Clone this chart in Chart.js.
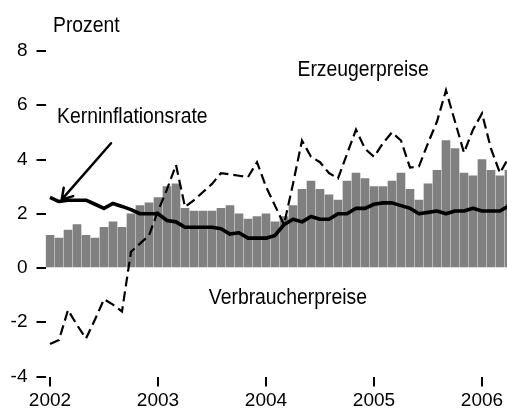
<!DOCTYPE html>
<html lang="de">
<head>
<meta charset="UTF-8">
<title>Verbraucherpreise, Erzeugerpreise, Kerninflationsrate</title>
<script src="https://cdn.jsdelivr.net/npm/chart.js"></script>
<style>
    body { margin: 0; background: #fff; }
    #wrap { width: 507px; height: 412px; }
</style>
</head>
<body>
<div id="wrap"><canvas id="chart" width="507" height="412"></canvas></div>
<script>
// Monate Jan 2002 - Apr 2006
const months = [
    '2002-01','2002-02','2002-03','2002-04','2002-05','2002-06','2002-07','2002-08','2002-09','2002-10','2002-11','2002-12',
    '2003-01','2003-02','2003-03','2003-04','2003-05','2003-06','2003-07','2003-08','2003-09','2003-10','2003-11','2003-12',
    '2004-01','2004-02','2004-03','2004-04','2004-05','2004-06','2004-07','2004-08','2004-09','2004-10','2004-11','2004-12',
    '2005-01','2005-02','2005-03','2005-04','2005-05','2005-06','2005-07','2005-08','2005-09','2005-10','2005-11','2005-12',
    '2006-01','2006-02','2006-03','2006-04'
];
const years = ['2002', '2003', '2004', '2005', '2006'];

// Verbraucherpreise (Balken)
const verbraucherpreise = [
    1.2, 1.1, 1.4, 1.6, 1.2, 1.1, 1.5, 1.7, 1.5, 2.0, 2.3, 2.4,
    2.6, 3.0, 3.1, 2.2, 2.1, 2.1, 2.1, 2.2, 2.3, 2.0, 1.8, 1.9,
    2.0, 1.7, 1.9, 2.3, 2.9, 3.2, 2.9, 2.7, 2.5, 3.2, 3.5, 3.3,
    3.0, 3.0, 3.2, 3.5, 2.9, 2.5, 3.1, 3.6, 4.7, 4.4, 3.5, 3.4,
    4.0, 3.6, 3.4, 3.6
];
// Erzeugerpreise (gestrichelt)
const erzeugerpreise = [
    -2.8, -2.65, -1.55, -2.1, -2.6, -1.9, -1.15, -1.35, -1.6, 0.6, 0.9, 1.2,
    2.1, 2.9, 3.8, 2.25, 2.5, 2.8, 3.1, 3.5, 3.45, 3.4, 3.35, 3.9,
    3.0, 2.3, 1.6, 3.1, 4.7, 4.1, 3.9, 3.5, 3.3, 4.2, 5.1, 4.4,
    4.1, 4.6, 5.0, 4.7, 3.7, 3.75, 4.6, 5.4, 6.55, 5.4, 4.25, 5.1,
    5.7, 4.4, 3.5, 4.1
];
// Kerninflationsrate (dicke Linie)
const kerninflation = [
    2.6, 2.45, 2.5, 2.5, 2.5, 2.35, 2.2, 2.38, 2.27, 2.15, 2.0, 2.0,
    2.0, 1.75, 1.7, 1.5, 1.5, 1.5, 1.5, 1.45, 1.25, 1.3, 1.1, 1.1,
    1.1, 1.2, 1.6, 1.8, 1.7, 1.9, 1.8, 1.8, 2.0, 2.0, 2.2, 2.2,
    2.35, 2.4, 2.4, 2.3, 2.2, 2.0, 2.05, 2.1, 2.0, 2.1, 2.1, 2.2,
    2.1, 2.1, 2.1, 2.3
];

const family = '"Liberation Sans", Arial, sans-serif';

// text labels and arrow, in data units (month index, percent)
const notes = [
    { text: 'Prozent', x: 0.33, y: 8.69 },
    { text: 'Erzeugerpreise', x: 27.5, y: 7.07 },
    { text: 'Kerninflationsrate', x: 0.78, y: 5.36 },
    { text: 'Verbraucherpreise', x: 17.65, y: -1.31 }
];
const arrowFrom = { x: 6.78, y: 4.6 };
const arrowTo = { x: 1.3, y: 2.52 };

const toXY = arr => arr.map((v, i) => ({ x: i, y: v }));

const notesPlugin = {
    id: 'notes',
    afterDraw(chart) {
        const { ctx, scales: { x, y } } = chart;
        ctx.save();
        ctx.fillStyle = '#000';
        ctx.font = '22.5px ' + family;
        ctx.textBaseline = 'alphabetic';
        ctx.textAlign = 'left';
        // the original lettering is a condensed sans, so squeeze it a bit
        notes.forEach(n => {
            ctx.save();
            ctx.translate(x.getPixelForValue(n.x), y.getPixelForValue(n.y));
            ctx.scale(0.86, 1);
            ctx.fillText(n.text, 0, 0);
            ctx.restore();
        });

        // arrow
        const x1 = x.getPixelForValue(arrowFrom.x), y1 = y.getPixelForValue(arrowFrom.y);
        const x2 = x.getPixelForValue(arrowTo.x), y2 = y.getPixelForValue(arrowTo.y);
        const ang = Math.atan2(y2 - y1, x2 - x1);
        ctx.strokeStyle = '#000';
        ctx.lineWidth = 2.5;
        ctx.lineCap = 'round';
        ctx.beginPath();
        ctx.moveTo(x1, y1);
        ctx.lineTo(x2, y2);
        ctx.moveTo(x2 - 12 * Math.cos(ang - 0.55), y2 - 12 * Math.sin(ang - 0.55));
        ctx.lineTo(x2, y2);
        ctx.lineTo(x2 - 12 * Math.cos(ang + 0.55), y2 - 12 * Math.sin(ang + 0.55));
        ctx.stroke();
        ctx.restore();
    }
};

Chart.defaults.font.family = family;
Chart.defaults.color = '#000';

new Chart(document.getElementById('chart'), {
    type: 'bar',
    data: {
        datasets: [
            {
                type: 'line',
                label: 'Erzeugerpreise',
                data: toXY(erzeugerpreise),
                borderColor: '#000',
                borderWidth: 2.2,
                borderDash: [10, 5],
                pointRadius: 0,
                tension: 0,
                order: 1
            },
            {
                type: 'line',
                label: 'Kerninflationsrate',
                data: toXY(kerninflation),
                borderColor: '#000',
                borderWidth: 3.6,
                borderJoinStyle: 'round',
                pointRadius: 0,
                tension: 0,
                order: 2
            },
            {
                label: 'Verbraucherpreise',
                data: toXY(verbraucherpreise),
                backgroundColor: '#808080',
                borderWidth: 0,
                barThickness: 8,
                order: 3
            }
        ]
    },
    options: {
        responsive: false,
        devicePixelRatio: 1,
        animation: false,
        layout: { padding: { top: 51, right: 0, bottom: 0, left: 0 } },
        plugins: {
            legend: { display: false },
            tooltip: { enabled: false }
        },
        scales: {
            x: {
                type: 'linear',
                min: -0.5,
                max: 50.78,
                offset: false,
                border: { display: false },
                grid: { offset: false, drawOnChartArea: false, drawTicks: true, tickLength: 10, lineWidth: 2, color: '#000' },
                ticks: {
                    autoSkip: false,
                    maxRotation: 0,
                    padding: 3,
                    font: { size: 19 },
                    callback: v => years.find(yr => months.indexOf(yr + '-01') === v) || ''
                },
                afterBuildTicks: s => {
                    s.ticks = years.map(yr => ({ value: months.indexOf(yr + '-01') }));
                },
                afterFit: s => { s.height = 35.5; }
            },
            y: {
                min: -4,
                max: 8,
                border: { display: false },
                grid: { drawOnChartArea: false, drawTicks: true, tickLength: 9, lineWidth: 2, color: '#000' },
                ticks: { stepSize: 2, padding: 9, font: { size: 19 } },
                afterFit: s => { s.width = 45.5; }
            }
        }
    },
    plugins: [notesPlugin]
});
</script>
</body>
</html>
